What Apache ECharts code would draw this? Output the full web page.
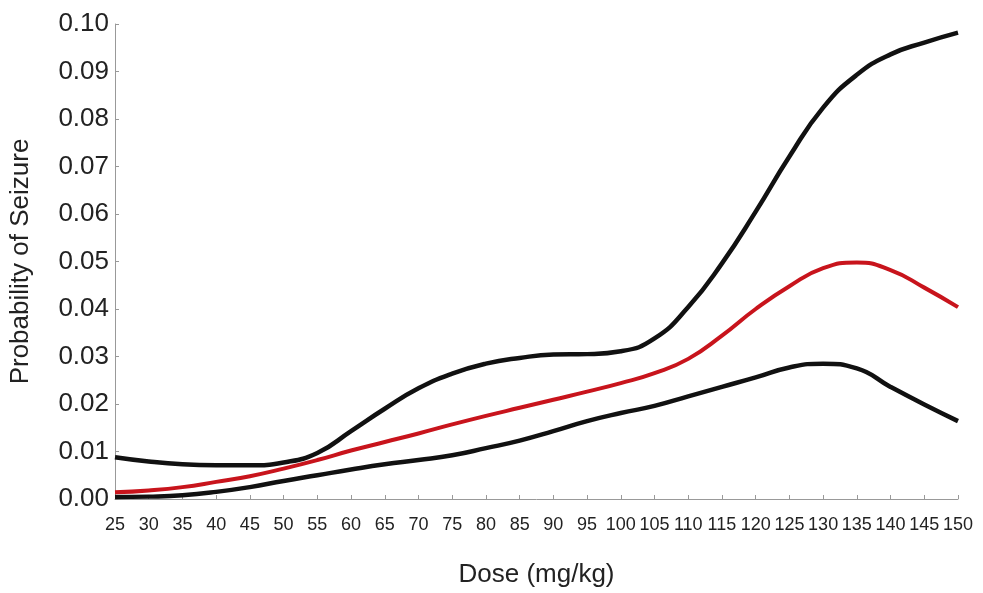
<!DOCTYPE html>
<html>
<head>
<meta charset="utf-8">
<script src="https://cdn.jsdelivr.net/npm/echarts@6/dist/echarts.min.js"></script>
<style>html,body{margin:0;padding:0;background:#fff;}#c{width:983px;height:593px;}</style>
</head>
<body>
<div id="c"></div>
<script>
var doses = [25,30,35,40,45,50,55,60,65,70,75,80,85,90,95,100,105,110,115,120,125,130,135,140,145,150];
var upper = [0.0088,0.0079,0.0073,0.0071,0.0071,0.0077,0.0097,0.0143,0.0190,0.0233,0.0264,0.0285,0.0297,0.0304,0.0305,0.0311,0.0338,0.0404,0.0496,0.0605,0.0721,0.0824,0.0893,0.0936,0.0961,0.0982];
var estimate = [0.0014,0.0018,0.0025,0.0036,0.0048,0.0064,0.0082,0.0102,0.0120,0.0138,0.0157,0.0175,0.0192,0.0209,0.0226,0.0244,0.0265,0.0295,0.0344,0.0400,0.0448,0.0486,0.0498,0.0482,0.0445,0.0404];
var lower = [0.0004,0.0005,0.0008,0.0015,0.0025,0.0038,0.0050,0.0062,0.0073,0.0082,0.0092,0.0107,0.0123,0.0143,0.0164,0.0181,0.0196,0.0216,0.0236,0.0256,0.0277,0.0285,0.0275,0.0236,0.0199,0.0164];
var yTicks = ['0.00','0.01','0.02','0.03','0.04','0.05','0.06','0.07','0.08','0.09','0.10'];

function pairs(xs, ys){ return xs.map(function(x,i){ return [x, ys[i]]; }); }

var chart = echarts.init(document.getElementById('c'), null, {renderer:'canvas'});
var font = 'Liberation Sans, Arial, sans-serif';
chart.setOption({
  animation: false,
  backgroundColor: '#ffffff',
  grid: {left: 111, right: 25, top: 24, bottom: 81, containLabel: false},
  xAxis: {
    type: 'value', min: 25, max: 150, interval: 5,
    name: 'Dose (mg/kg)', nameLocation: 'middle', nameGap: 63,
    nameTextStyle: {fontFamily: font, fontSize: 26, color: '#222'},
    axisLine: {show: true, lineStyle: {color: '#999', width: 1}},
    axisTick: {show: true, length: 4, inside: true, lineStyle: {color: '#999'}},
    axisLabel: {fontFamily: font, fontSize: 18, color: '#222', margin: 17, showMinLabel: true, showMaxLabel: true},
    splitLine: {show: false}
  },
  yAxis: {
    type: 'value', min: 0, max: 0.1, interval: 0.01,
    name: 'Probability of Seizure', nameLocation: 'middle', nameGap: 81,
    nameTextStyle: {fontFamily: font, fontSize: 26, color: '#222'},
    axisLine: {show: true, lineStyle: {color: '#999', width: 1}},
    axisTick: {show: true, length: 4, inside: true, lineStyle: {color: '#999'}},
    axisLabel: {fontFamily: font, fontSize: 26, color: '#222', margin: 6,
      formatter: function(v){ return yTicks[Math.round(v*100)]; }},
    splitLine: {show: false}
  },
  series: [
    {type: 'line', name: 'Upper', data: pairs(doses, upper), smooth: 0.5, showSymbol: false,
      lineStyle: {color: '#111', width: 4.5}, z: 3},
    {type: 'line', name: 'Estimate', data: pairs(doses, estimate), smooth: 0.5, showSymbol: false,
      lineStyle: {color: '#c8141c', width: 4}, z: 4},
    {type: 'line', name: 'Lower', data: pairs(doses, lower), smooth: 0.5, showSymbol: false,
      lineStyle: {color: '#111', width: 4.5}, z: 3}
  ]
});
</script>
</body>
</html>
